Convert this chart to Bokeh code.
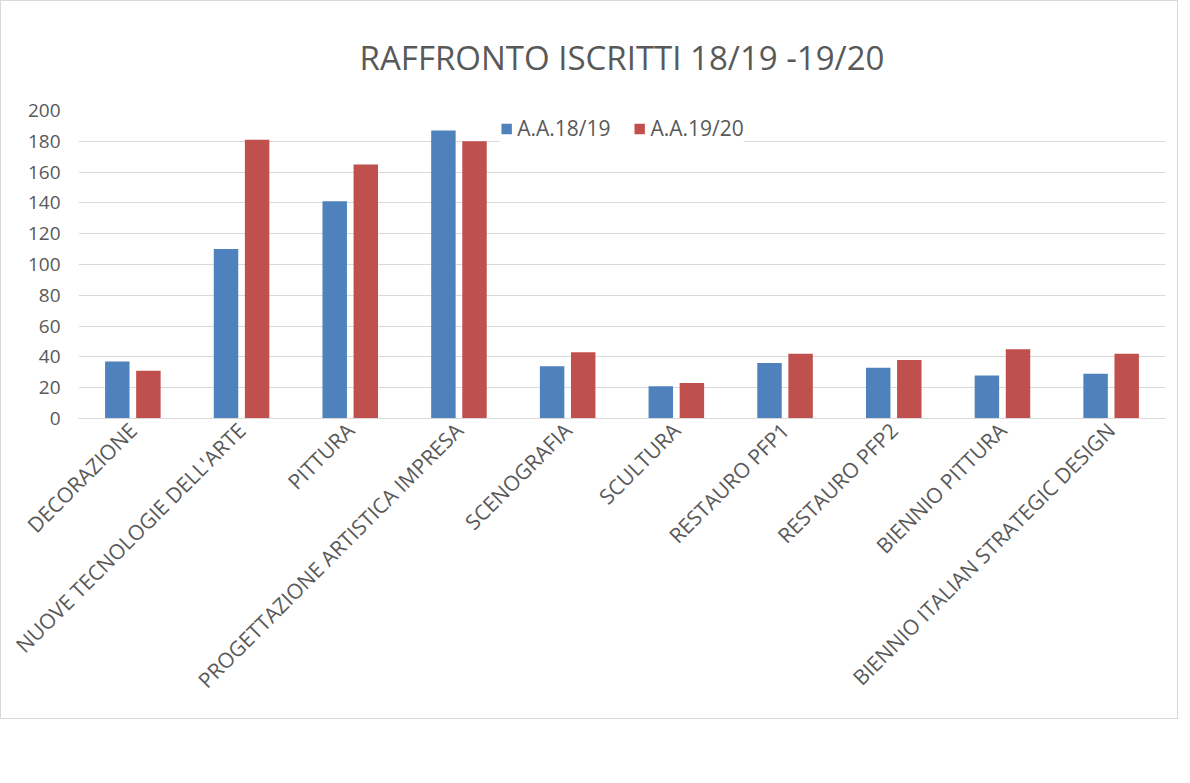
import math
from bokeh.plotting import figure
from bokeh.models import ColumnDataSource, FactorRange, Legend, LegendItem, SingleIntervalTicker, Title
from bokeh.transform import dodge
from bokeh.embed import file_html
from bokeh.resources import INLINE

categories = ["DECORAZIONE", "NUOVE TECNOLOGIE DELL'ARTE", "PITTURA",
              "PROGETTAZIONE ARTISTICA IMPRESA", "SCENOGRAFIA", "SCULTURA",
              "RESTAURO PFP1", "RESTAURO PFP2", "BIENNIO PITTURA",
              "BIENNIO ITALIAN STRATEGIC DESIGN"]
aa_1819 = [37, 110, 141, 187, 34, 21, 36, 33, 28, 29]
aa_1920 = [31, 181, 165, 180, 43, 23, 42, 38, 45, 42]
series_names = ["A.A.18/19", "A.A.19/20"]
title_text = "RAFFRONTO ISCRITTI 18/19 -19/20"

FONT = "Open Sans"
TXT = "#595959"

src = ColumnDataSource(dict(cat=categories, a=aa_1819, b=aa_1920))

p = figure(x_range=FactorRange(*categories, range_padding=0), y_range=(0, 200),
           frame_width=1087, frame_height=308,
           output_backend="svg", toolbar_location=None,
           min_border_left=77, min_border_right=12, min_border_top=109,
           min_border_bottom=300)
p.styles = {"border": "1px solid #d9d9d9"}
p.outline_line_color = None

t = Title(text=title_text, align="center", text_font=FONT, text_font_size="33px",
          text_font_style="normal", text_color=TXT, standoff=62)
p.add_layout(t, "above")

r1 = p.vbar(x=dodge("cat", -0.143, range=p.x_range), top="a", width=0.225,
            source=src, fill_color="#4F81BD", line_color=None)
r2 = p.vbar(x=dodge("cat", 0.143, range=p.x_range), top="b", width=0.225,
            source=src, fill_color="#C0504D", line_color=None)

p.yaxis.ticker = SingleIntervalTicker(interval=20)
p.yaxis.axis_line_color = None
p.yaxis.major_tick_line_color = None
p.yaxis.minor_tick_line_color = None
p.yaxis.major_label_text_font = FONT
p.yaxis.major_label_text_font_size = "19px"
p.yaxis.major_label_text_color = TXT
p.yaxis.major_label_standoff = 12

p.xaxis.axis_line_color = "#d9d9d9"
p.xaxis.major_tick_line_color = None
p.xaxis.minor_tick_line_color = None
p.xaxis.major_tick_out = 0
p.xaxis.major_label_orientation = math.pi / 4
p.xaxis.major_label_text_font = FONT
p.xaxis.major_label_text_font_size = "21px"
p.xaxis.major_label_text_color = TXT
p.xaxis.major_label_standoff = 8

p.xgrid.grid_line_color = None
p.ygrid.grid_line_color = "#d9d9d9"
p.ygrid.grid_line_width = 1

legend = Legend(items=[LegendItem(label=series_names[0], renderers=[r1]),
                       LegendItem(label=series_names[1], renderers=[r2])],
                orientation="horizontal", location="top_center", margin=4, padding=4,
                label_text_font=FONT, label_text_font_size="21px",
                label_text_color=TXT, glyph_width=13, glyph_height=13,
                spacing=22, label_standoff=5, background_fill_color="white",
                background_fill_alpha=1, border_line_color=None)
p.add_layout(legend, "center")

open("out.html", "w").write(file_html(p, INLINE))
